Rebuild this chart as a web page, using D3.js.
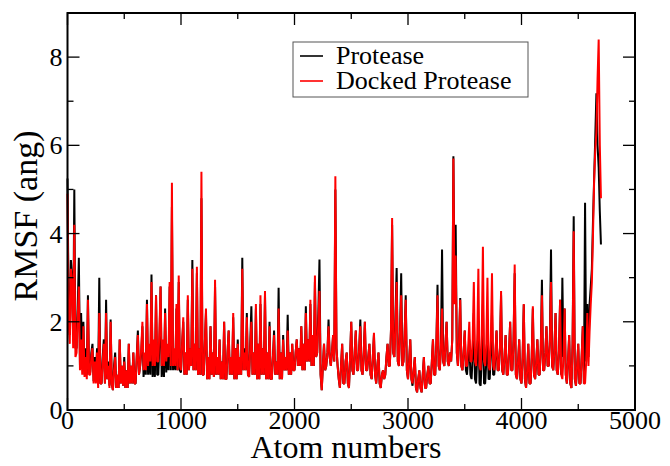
<!DOCTYPE html>
<html>
<head>
<meta charset="utf-8">
<script src="https://cdn.jsdelivr.net/npm/d3@7"></script>
<style>
  body { margin: 0; background: #fff; }
  text { font-family: "Liberation Serif", "Times New Roman", serif; }
</style>
</head>
<body>
<script>
// RMSF per atom, sampled every 10 atoms (0 .. 4700), one row = 100 atoms
var atoms = d3.range(0, 4701, 10);

var protease = [
  5.25, 2.2, 1.7, 3.4, 3.0, 1.6, 5.0, 1.4, 1.4, 2.3,
  3.45, 1.0, 2.2, 1.0, 2.0, 0.8, 1.4, 0.8, 2.6, 0.85,
  0.85, 1.3, 1.5, 0.65, 1.2, 0.65, 1.4, 0.6, 3.0, 0.6,
  0.6, 1.2, 1.6, 0.6, 2.5, 0.7, 1.1, 0.55, 2.05, 0.6,
  0.45, 1.0, 1.3, 0.5, 0.8, 0.5, 1.6, 0.6, 1.0, 0.55,
  1.2, 0.5, 0.9, 0.5, 1.5, 0.6, 1.0, 0.6, 1.3, 0.6,
  0.6, 1.2, 1.8, 0.8, 1.0, 1.3, 1.9, 0.75, 1.1, 0.8,
  2.5, 0.8, 1.3, 0.8, 3.07, 0.75, 1.2, 0.75, 2.6, 0.8,
  0.8, 1.5, 2.8, 0.75, 1.3, 0.75, 2.3, 0.85, 1.3, 0.9,
  2.8, 0.9, 4.6, 0.9, 1.3, 0.9, 2.3, 0.9, 2.9, 0.9,
  0.85, 1.5, 2.0, 0.8, 1.3, 0.8, 2.5, 0.9, 1.4, 1.0,
  3.4, 0.9, 1.5, 0.9, 3.1, 0.8, 1.4, 0.8, 4.8, 0.8,
  0.8, 1.5, 2.2, 0.7, 1.2, 0.7, 1.9, 0.8, 1.3, 0.75,
  2.8, 0.8, 1.2, 0.8, 1.6, 0.7, 1.1, 0.7, 2.0, 0.7,
  0.7, 1.3, 1.8, 0.8, 1.2, 0.8, 2.1, 0.7, 1.4, 0.7,
  1.6, 0.8, 1.2, 0.8, 3.45, 0.9, 1.4, 0.9, 2.2, 0.8,
  0.75, 1.5, 2.35, 0.8, 1.3, 0.8, 2.3, 0.7, 1.5, 0.7,
  2.4, 0.8, 1.4, 0.8, 2.6, 0.7, 1.3, 0.7, 2.0, 0.7,
  0.7, 1.2, 1.8, 0.8, 1.1, 0.8, 2.77, 0.7, 1.3, 0.7,
  1.7, 0.9, 1.2, 0.9, 2.16, 0.8, 1.3, 0.8, 1.5, 0.9,
  0.9, 1.3, 1.6, 1.0, 1.4, 1.0, 1.9, 0.9, 1.5, 0.9,
  2.35, 1.1, 1.6, 1.1, 2.4, 1.0, 1.7, 1.0, 2.9, 1.2,
  1.3, 2.2, 3.41, 0.8, 0.45, 1.0, 1.5, 0.9, 1.0, 1.3,
  2.05, 1.2, 1.0, 1.3, 1.7, 1.1, 5.0, 1.4, 1.0, 0.7,
  0.5, 1.0, 1.5, 0.6, 0.6, 1.1, 1.3, 0.6, 0.5, 1.2,
  2.0, 0.9, 0.8, 1.3, 1.8, 0.9, 0.9, 1.4, 2.05, 0.9,
  0.8, 1.3, 2.0, 0.9, 0.9, 1.2, 1.5, 0.8, 0.7, 1.2,
  1.7, 0.8, 0.6, 1.0, 1.3, 0.6, 0.5, 0.8, 0.9, 0.7,
  0.8, 1.2, 1.5, 1.0, 1.0, 1.8, 4.2, 1.3, 1.2, 2.2,
  3.22, 1.1, 1.0, 1.8, 3.1, 1.0, 1.1, 1.7, 2.6, 0.9,
  0.7, 1.1, 1.6, 0.7, 0.55, 0.9, 1.2, 0.5, 0.4, 0.7,
  0.9, 0.5, 0.4, 0.8, 1.2, 0.5, 0.5, 0.8, 1.0, 0.6,
  0.6, 1.1, 1.6, 0.8, 0.8, 1.5, 2.84, 1.0, 0.9, 1.4,
  3.64, 1.1, 1.0, 1.5, 2.0, 1.1, 1.0, 1.3, 1.1, 1.6,
  5.75, 2.6, 4.2, 1.3, 1.0, 1.6, 2.54, 1.0, 0.9, 1.3,
  1.8, 0.9, 0.8, 1.2, 1.6, 0.8, 0.7, 1.2, 2.2, 0.7,
  0.6, 1.2, 2.0, 0.6, 0.55, 1.2, 2.4, 0.6, 0.6, 1.1,
  1.8, 0.7, 0.7, 1.3, 2.2, 0.8, 0.8, 1.2, 1.8, 0.9,
  0.9, 1.4, 2.6, 0.9, 0.8, 1.2, 1.7, 0.8, 0.8, 1.3,
  2.0, 0.9, 0.9, 1.6, 3.1, 0.8, 0.7, 1.1, 1.6, 0.7,
  0.6, 1.2, 2.39, 0.7, 0.5, 0.9, 1.5, 0.6, 0.6, 1.2,
  2.3, 0.8, 0.7, 1.1, 1.6, 0.8, 0.8, 1.4, 2.95, 0.9,
  0.9, 1.3, 1.9, 1.0, 1.0, 1.6, 3.64, 1.0, 0.9, 1.4,
  2.2, 0.9, 0.8, 1.3, 2.5, 0.8, 3.0, 1.2, 2.3, 0.8,
  0.6, 1.1, 1.7, 0.6, 0.5, 1.5, 4.39, 0.7, 0.55, 1.0,
  1.5, 0.6, 0.6, 1.2, 1.9, 0.6, 4.7, 1.1, 2.4, 1.2,
  2.4, 2.8, 3.2, 4.3, 5.25, 6.2, 7.18, 6.0, 5.5, 4.5,
  3.75
];

var docked = [
  4.9, 2.0, 1.5, 3.2, 2.9, 1.4, 4.2, 1.2, 1.3, 2.1,
  2.8, 0.9, 1.6, 0.8, 1.9, 0.75, 1.2, 0.7, 2.5, 0.8,
  0.8, 1.2, 1.4, 0.6, 1.1, 0.6, 1.3, 0.5, 2.2, 0.6,
  0.6, 1.1, 1.5, 0.6, 2.2, 0.7, 1.0, 0.5, 2.0, 0.6,
  0.45, 0.9, 1.2, 0.5, 0.8, 0.5, 1.6, 0.6, 1.0, 0.55,
  1.1, 0.5, 0.9, 0.5, 1.5, 0.6, 1.0, 0.6, 1.3, 0.6,
  0.6, 1.2, 1.7, 0.8, 1.0, 1.4, 2.0, 0.9, 1.3, 0.9,
  2.4, 1.0, 1.5, 1.1, 2.9, 1.0, 1.6, 1.0, 2.6, 1.1,
  1.1, 1.8, 2.8, 1.0, 1.6, 1.0, 2.2, 1.1, 1.5, 1.2,
  2.9, 1.0, 5.15, 1.0, 1.4, 1.0, 2.4, 0.9, 3.05, 1.0,
  0.9, 1.5, 2.1, 0.8, 1.3, 0.8, 2.6, 0.9, 1.4, 1.0,
  3.2, 0.9, 1.5, 0.9, 3.25, 0.8, 1.4, 0.8, 5.4, 0.8,
  0.8, 1.5, 2.3, 0.7, 1.2, 0.7, 1.9, 0.8, 1.3, 0.75,
  2.95, 0.8, 1.2, 0.8, 1.6, 0.7, 1.1, 0.7, 2.0, 0.7,
  0.7, 1.3, 1.8, 0.8, 1.2, 0.8, 2.2, 0.7, 1.4, 0.7,
  1.5, 0.8, 1.2, 0.8, 3.2, 0.9, 1.3, 0.9, 2.1, 0.8,
  0.75, 1.4, 2.0, 0.8, 1.3, 0.8, 2.4, 0.7, 1.5, 0.7,
  2.6, 0.8, 1.4, 0.8, 2.7, 0.7, 1.3, 0.7, 1.9, 0.7,
  0.7, 1.2, 1.7, 0.8, 1.1, 0.8, 2.3, 0.7, 1.3, 0.7,
  1.6, 0.9, 1.2, 0.9, 1.8, 0.8, 1.3, 0.8, 1.5, 0.9,
  0.9, 1.3, 1.6, 1.0, 1.4, 1.0, 1.9, 0.9, 1.5, 0.9,
  2.2, 1.1, 1.6, 1.1, 2.5, 1.0, 1.7, 1.0, 3.05, 1.2,
  1.3, 2.0, 2.7, 0.8, 0.45, 1.0, 1.5, 0.9, 1.0, 1.3,
  1.9, 1.2, 1.0, 1.3, 1.7, 1.1, 5.3, 1.4, 1.0, 0.7,
  0.5, 1.0, 1.5, 0.6, 0.6, 1.1, 1.3, 0.6, 0.5, 1.2,
  2.0, 0.9, 0.8, 1.3, 1.8, 0.9, 0.9, 1.4, 1.9, 0.9,
  0.8, 1.3, 2.0, 0.9, 0.9, 1.2, 1.5, 0.8, 0.7, 1.2,
  1.75, 0.8, 0.6, 1.0, 1.3, 0.6, 0.5, 0.8, 0.9, 0.7,
  0.8, 1.2, 1.5, 1.0, 1.0, 1.8, 4.35, 1.3, 1.2, 2.0,
  2.9, 1.1, 1.0, 1.8, 2.6, 1.0, 1.1, 1.7, 2.5, 0.9,
  0.7, 1.1, 1.6, 0.7, 0.6, 0.9, 1.2, 0.5, 0.4, 0.7,
  0.9, 0.5, 0.4, 0.8, 1.2, 0.5, 0.5, 0.8, 1.0, 0.6,
  0.6, 1.1, 1.6, 0.8, 0.8, 1.5, 2.6, 1.0, 0.9, 1.4,
  2.3, 1.1, 1.0, 1.5, 2.0, 1.1, 1.0, 1.3, 1.1, 1.6,
  5.7, 2.4, 3.5, 1.3, 1.0, 1.6, 2.5, 1.0, 0.9, 1.3,
  1.8, 1.0, 1.0, 1.4, 2.0, 1.1, 1.1, 1.6, 2.9, 1.1,
  1.0, 1.6, 3.2, 1.0, 0.9, 1.7, 3.7, 1.1, 1.0, 1.5,
  3.0, 1.0, 0.9, 1.6, 3.1, 1.0, 0.9, 1.3, 1.8, 0.9,
  0.9, 1.4, 2.7, 0.9, 0.8, 1.2, 1.7, 0.8, 0.8, 1.3,
  2.0, 0.9, 0.9, 1.6, 3.3, 0.8, 0.7, 1.1, 1.6, 0.7,
  0.6, 1.2, 2.4, 0.7, 0.5, 0.9, 1.5, 0.6, 0.6, 1.2,
  2.35, 0.8, 0.7, 1.1, 1.6, 0.8, 0.8, 1.4, 2.6, 0.9,
  0.9, 1.3, 1.9, 1.0, 1.0, 1.6, 2.9, 1.0, 0.9, 1.4,
  2.2, 0.9, 0.8, 1.3, 2.5, 0.8, 0.7, 1.2, 2.3, 0.8,
  0.6, 1.1, 1.7, 0.6, 0.5, 1.5, 4.05, 0.7, 0.55, 1.0,
  1.5, 0.6, 0.6, 1.2, 1.9, 0.6, 0.6, 1.1, 2.2, 1.0,
  1.8, 2.4, 2.9, 4.0, 5.2, 5.9, 6.3, 7.5, 8.4, 6.0,
  4.8
];

var xTicks = [0, 1000, 2000, 3000, 4000, 5000];
var xMinor = [500, 1500, 2500, 3500, 4500];
var yTicks = [0, 2, 4, 6, 8];
var yMinor = [1, 3, 5, 7];
var seriesNames = ["Protease", "Docked Protease"];
var seriesColors = ["#000000", "#ff0000"];

var margin = {top: 13, right: 35, bottom: 56, left: 67.5};
var W = 670, H = 466;
var width = W - margin.left - margin.right;
var height = H - margin.top - margin.bottom;

var xScale = d3.scaleLinear().domain([0, 5000]).range([0, width]);
var yScale = d3.scaleLinear().domain([0, 9]).range([height, 0]);

var svg = d3.select("body").append("svg")
    .attr("width", W)
    .attr("height", H)
    .append("g")
    .attr("transform", "translate(" + margin.left + "," + margin.top + ")");

var line = d3.line()
    .x(function(d) { return xScale(d[0]); })
    .y(function(d) { return yScale(d[1]); });

[protease, docked].forEach(function(vals, k) {
    svg.append("path")
        .datum(atoms.map(function(a, i) { return [a, vals[i]]; }))
        .attr("fill", "none")
        .attr("stroke", seriesColors[k])
        .attr("stroke-width", 2)
        .attr("stroke-linejoin", "bevel")
        .attr("d", line);
});

// inward ticks on all four sides
function ticks(axis, vals, len) {
    var sel = svg.append("g").attr("stroke", "#000").attr("stroke-width", 1.3);
    vals.forEach(function(v) {
        if (axis === "x") {
            sel.append("line").attr("x1", xScale(v)).attr("x2", xScale(v)).attr("y1", height).attr("y2", height - len);
            sel.append("line").attr("x1", xScale(v)).attr("x2", xScale(v)).attr("y1", 0).attr("y2", len);
        } else {
            sel.append("line").attr("y1", yScale(v)).attr("y2", yScale(v)).attr("x1", 0).attr("x2", len);
            sel.append("line").attr("y1", yScale(v)).attr("y2", yScale(v)).attr("x1", width).attr("x2", width - len);
        }
    });
}
ticks("x", xTicks, 12);
ticks("x", xMinor, 6);
ticks("y", yTicks, 12);
ticks("y", yMinor, 6);

svg.append("rect")
    .attr("width", width)
    .attr("height", height)
    .attr("fill", "none")
    .attr("stroke", "#000")
    .attr("stroke-width", 2);

svg.append("g").selectAll("text")
    .data(xTicks).enter().append("text")
    .attr("x", function(d) { return xScale(d); })
    .attr("y", height + 19)
    .attr("text-anchor", "middle")
    .attr("font-size", 26)
    .text(function(d) { return d; });

svg.append("g").selectAll("text")
    .data(yTicks).enter().append("text")
    .attr("x", -5)
    .attr("y", function(d) { return yScale(d) + 9; })
    .attr("text-anchor", "end")
    .attr("font-size", 26)
    .text(function(d) { return d; });

svg.append("text")
    .attr("x", (346 - margin.left))
    .attr("y", height + 48)
    .attr("text-anchor", "middle")
    .attr("font-size", 32)
    .text("Atom numbers");

svg.append("text")
    .attr("transform", "translate(-31," + 203 + ") rotate(-90)")
    .attr("text-anchor", "middle")
    .attr("font-size", 34)
    .text("RMSF (ang)");

// legend
var legend = svg.append("g").attr("transform", "translate(" + (293 - margin.left) + "," + (42 - margin.top) + ")");
legend.append("rect")
    .attr("width", 235)
    .attr("height", 55)
    .attr("fill", "#fff")
    .attr("stroke", "#555")
    .attr("stroke-width", 1);
seriesNames.forEach(function(name, i) {
    legend.append("line")
        .attr("x1", 7).attr("x2", 30)
        .attr("y1", 14 + i * 25).attr("y2", 14 + i * 25)
        .attr("stroke", seriesColors[i])
        .attr("stroke-width", 1.6);
    legend.append("text")
        .attr("x", 43)
        .attr("y", 22 + i * 25)
        .attr("font-size", 26)
        .text(name);
});
</script>
</body>
</html>
